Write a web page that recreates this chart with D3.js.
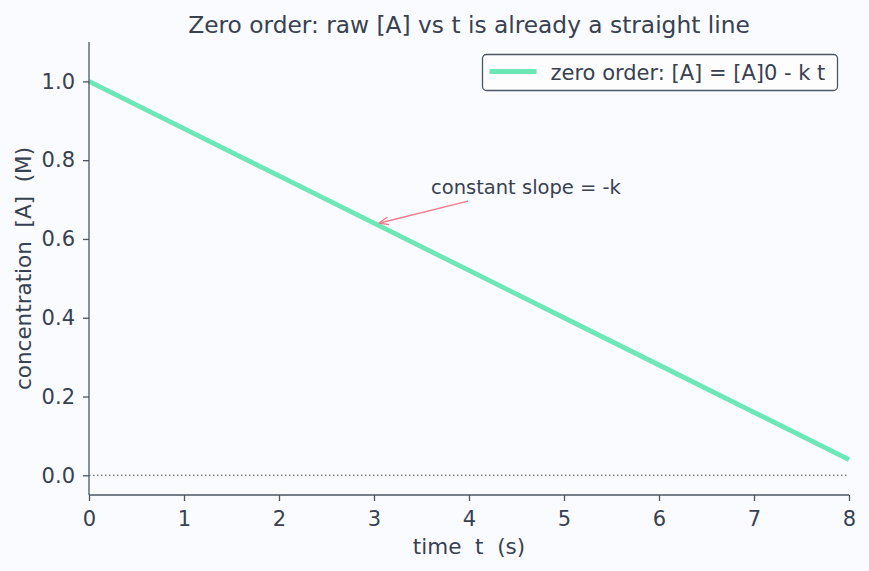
<!DOCTYPE html>
<html>
<head>
<meta charset="utf-8">
<script src="https://cdn.jsdelivr.net/npm/d3@7"></script>
<style>
  body { margin: 0; background: #fafbfe; }
  text { font-family: "DejaVu Sans", sans-serif; fill: #374151; }
</style>
</head>
<body>
<script>
var width = 869;
var height = 571;

// zero order decay, [A]0 = 1.0 M, k = 0.12 M/s
var times = [0, 1, 2, 3, 4, 5, 6, 7, 8];
var conc = [1.0, 0.88, 0.76, 0.64, 0.52, 0.40, 0.28, 0.16, 0.04];
var xTicks = [0, 1, 2, 3, 4, 5, 6, 7, 8];
var yTicks = [0.0, 0.2, 0.4, 0.6, 0.8, 1.0];
var seriesName = "zero order: [A] = [A]0 - k t";
var noteText = "constant slope = -k";
var noteTip = [3.05, 0.64];
var noteTail = [3.99, 0.696];
var noteAt = [3.6, 0.715];

var margin = {top: 42, right: 20, bottom: 76, left: 89};
var plotW = width - margin.left - margin.right;
var plotH = height - margin.top - margin.bottom;

var svg = d3.select("body").append("svg").attr("width", width).attr("height", height);

var x = d3.scaleLinear().domain([0, 8]).range([0, plotW]);
var y = d3.scaleLinear().domain([-0.05, 1.1]).range([plotH, 0]);

var g = svg.append("g").attr("transform", "translate(" + margin.left + "," + margin.top + ")");

// dotted zero line
g.append("line")
  .attr("x1", x(0)).attr("x2", x(8))
  .attr("y1", y(0)).attr("y2", y(0))
  .attr("stroke", "#4b5563").attr("stroke-width", 1.1)
  .attr("stroke-dasharray", "1.5,2.5");

// the data line
var line = d3.line().x(function(d, i) { return x(times[i]); }).y(function(d) { return y(d); });
g.append("path")
  .datum(conc)
  .attr("d", line)
  .attr("fill", "none")
  .attr("stroke", "#6ee7b7")
  .attr("stroke-width", 4.8);

// axes
var xAxis = g.append("g").attr("transform", "translate(0," + plotH + ")")
  .call(d3.axisBottom(x).tickValues(xTicks).tickFormat(d3.format("d")).tickSize(6).tickPadding(10));
var yAxis = g.append("g")
  .call(d3.axisLeft(y).tickValues(yTicks).tickFormat(d3.format(".1f")).tickSize(6).tickPadding(8));

[xAxis, yAxis].forEach(function(a) {
  a.select(".domain").attr("stroke", "#4b5563").attr("stroke-width", 1.3);
  a.selectAll(".tick line").attr("stroke", "#4b5563").attr("stroke-width", 1.3);
  a.selectAll(".tick text").attr("fill", "#374151").style("font-size", "21px")
    .style("font-family", "DejaVu Sans, sans-serif");
});
// matplotlib style: spine spans full range, no end caps
xAxis.select(".domain").attr("d", "M0,0H" + plotW);
yAxis.select(".domain").attr("d", "M0," + plotH + "V0");

// title and labels
svg.append("text")
  .attr("x", margin.left + plotW / 2).attr("y", 32.5)
  .attr("text-anchor", "middle").style("font-size", "23.3px")
  .text("Zero order: raw [A] vs t is already a straight line");

svg.append("text")
  .attr("x", margin.left + plotW / 2).attr("y", 554)
  .attr("text-anchor", "middle").style("font-size", "21.5px")
  .attr("xml:space", "preserve")
  .text("time  t  (s)");

svg.append("text")
  .attr("transform", "translate(30.5," + (margin.top + plotH / 2) + ") rotate(-90)")
  .attr("text-anchor", "middle").style("font-size", "21.5px")
  .attr("xml:space", "preserve")
  .text("concentration  [A]  (M)");

// annotation
svg.append("defs").append("marker")
  .attr("id", "arr").attr("viewBox", "0 0 10 10")
  .attr("refX", 10).attr("refY", 5)
  .attr("markerWidth", 10).attr("markerHeight", 10)
  .attr("markerUnits", "userSpaceOnUse")
  .attr("orient", "auto")
  .append("path").attr("d", "M0,1 L10,5 L0,9")
  .attr("fill", "none").attr("stroke", "#f07a8a").attr("stroke-width", 1.3);

g.append("line")
  .attr("x1", x(noteTail[0])).attr("y1", y(noteTail[1]))
  .attr("x2", x(noteTip[0])).attr("y2", y(noteTip[1]))
  .attr("stroke", "#f07a8a").attr("stroke-width", 1.4)
  .attr("marker-end", "url(#arr)");

g.append("text")
  .attr("x", x(noteAt[0])).attr("y", y(noteAt[1]))
  .style("font-size", "19.5px")
  .text(noteText);

// legend
var leg = svg.append("g").attr("transform", "translate(482.5,54.5)");
leg.append("rect")
  .attr("width", 355).attr("height", 36).attr("rx", 4)
  .attr("fill", "#fdfdfe").attr("stroke", "#4b5563").attr("stroke-width", 1.3);
leg.append("line")
  .attr("x1", 7).attr("x2", 54).attr("y1", 17).attr("y2", 17)
  .attr("stroke", "#6ee7b7").attr("stroke-width", 4.8);
leg.append("text")
  .attr("x", 68).attr("y", 25)
  .style("font-size", "21px")
  .text(seriesName);
</script>
</body>
</html>
